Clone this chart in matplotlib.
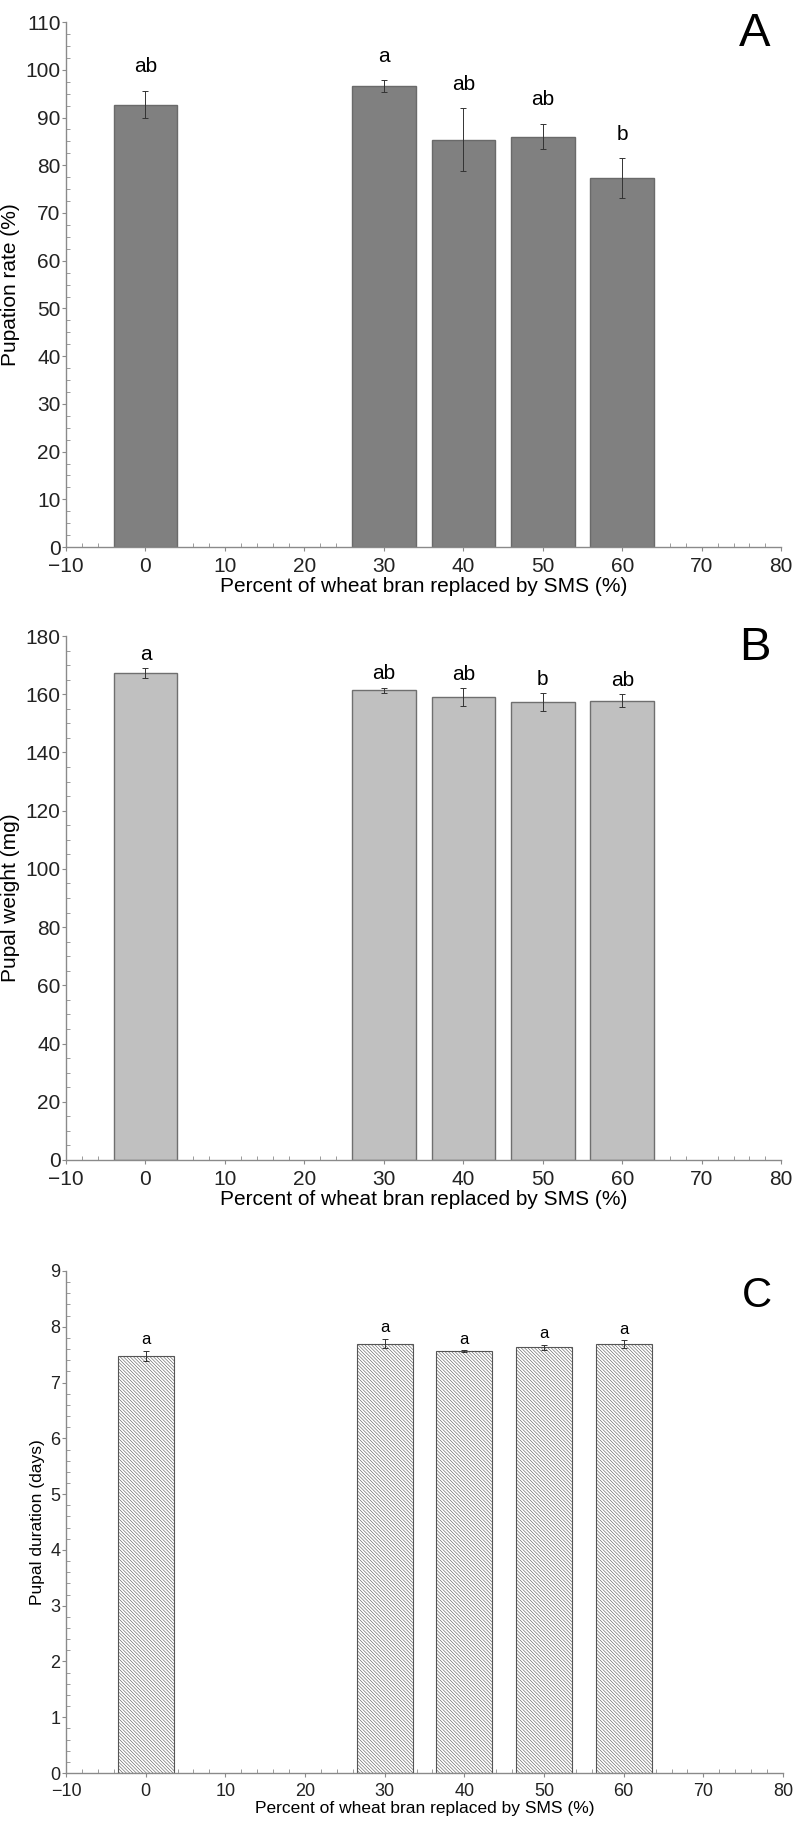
import numpy as np
import matplotlib.pyplot as plt
from matplotlib.ticker import MultipleLocator, AutoMinorLocator

plt.rcParams['font.family'] = ['Liberation Sans', 'DejaVu Sans']
plt.rcParams['hatch.color'] = '#bdbdbd'
plt.rcParams['hatch.linewidth'] = 0.4

# datos
sms = [0, 30, 40, 50, 60]

pupation = [92.7, 96.6, 85.3, 86.0, 77.3]
pupation_err = [2.9, 1.2, 6.6, 2.7, 4.2]
pupation_let = ['ab', 'a', 'ab', 'ab', 'b']

weight = [167.3, 161.3, 158.9, 157.3, 157.8]
weight_err = [1.6, 0.9, 3.1, 3.1, 2.3]
weight_let = ['a', 'ab', 'ab', 'b', 'ab']

duration = [7.48, 7.70, 7.56, 7.63, 7.69]
duration_err = [0.09, 0.075, 0.015, 0.04, 0.065]
duration_let = ['a', 'a', 'a', 'a', 'a']

xlabel = 'Percent of wheat bran replaced by SMS (%)'

fig = plt.figure(figsize=(8, 18.23), dpi=100)
axA = fig.add_axes([0.0825, 0.6999, 0.894, 0.2880])
axB = fig.add_axes([0.0825, 0.3637, 0.894, 0.2874])
axC = fig.add_axes([0.0825, 0.0274, 0.8963, 0.2754])


def estilo(ax, ymax, ymaj, nmin, ylabel, fs_tick, fs_lab):
    ax.set_xlim(-10, 80)
    ax.set_ylim(0, ymax)
    ax.xaxis.set_major_locator(MultipleLocator(10))
    ax.xaxis.set_minor_locator(AutoMinorLocator(5))
    ax.yaxis.set_major_locator(MultipleLocator(ymaj))
    ax.yaxis.set_minor_locator(AutoMinorLocator(nmin))
    for s in ['top', 'right']:
        ax.spines[s].set_visible(False)
    for s in ['left', 'bottom']:
        ax.spines[s].set_color('#8a8a8a')
        ax.spines[s].set_linewidth(1.0)
    ax.tick_params(which='major', direction='out', length=3, width=0.8,
                   color='#8a8a8a', labelsize=fs_tick, labelcolor='#222222')
    ax.tick_params(axis='y', which='major', pad=1)
    ax.tick_params(axis='x', which='major', pad=4)
    ax.tick_params(which='minor', direction='in', length=3, width=0.6, color='#8a8a8a')
    ax.set_xlabel(xlabel, fontsize=fs_lab, labelpad=1)
    ax.set_ylabel(ylabel, fontsize=fs_lab, labelpad=4)


def barras(ax, vals, errs, lets, width, off, fs, **kw):
    ax.bar(sms, vals, width=width, zorder=2, **kw)
    ax.errorbar(sms, vals, yerr=errs, fmt='none', ecolor='#333333',
                elinewidth=0.7, capsize=2, capthick=0.7, zorder=3)
    for x, v, e, l in zip(sms, vals, errs, lets):
        ax.text(x, v + e + off, l, ha='center', va='bottom', fontsize=fs)


# A
barras(axA, pupation, pupation_err, pupation_let, 8, 3.0, 15,
       color='#808080', edgecolor='#6a6a6a', linewidth=1.0)
estilo(axA, 110, 10, 4, 'Pupation rate (%)', 15, 15)
axA.text(0.985, 1.02, 'A', transform=axA.transAxes, ha='right', va='top', fontsize=34)

# B
barras(axB, weight, weight_err, weight_let, 8, 1.5, 15,
       color='#c0c0c0', edgecolor='#6f6f6f', linewidth=1.0)
estilo(axB, 180, 20, 4, 'Pupal weight (mg)', 15, 15)
axB.text(0.985, 1.02, 'B', transform=axB.transAxes, ha='right', va='top', fontsize=34)

# C
barras(axC, duration, duration_err, duration_let, 7, 0.07, 12,
       facecolor='white', edgecolor='#555555', linewidth=0.8,
       hatch='\\' * 10)
estilo(axC, 9, 1, 5, 'Pupal duration (days)', 13, 12.5)
axC.text(0.985, 0.99, 'C', transform=axC.transAxes, ha='right', va='top', fontsize=30)

plt.savefig('out.png', dpi=100)
